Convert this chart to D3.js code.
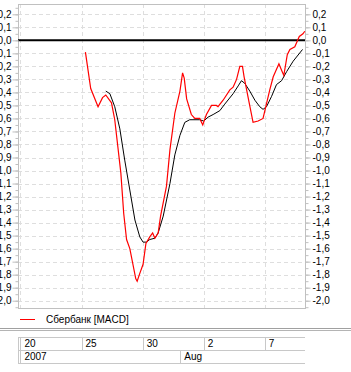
<!DOCTYPE html>
<html><head><meta charset="utf-8">
<script src="https://cdn.jsdelivr.net/npm/d3@7"></script>
<style>html,body{margin:0;padding:0;background:#fff;}svg{display:block;}</style>
</head><body>
<script>
// trading-day index (0 = 20 Jul 2007)
const macdT = [3.19,3.45,3.81,4.03,4.19,4.47,4.63,4.93,5.07,5.21,5.37,5.66,5.73,5.86,6.02,6.16,6.35,6.49,6.60,6.76,6.88,7.17,7.34,7.58,7.83,7.96,8.04,8.16,8.39,8.56,8.80,8.95,9.13,9.38,9.62,9.70,9.95,10.28,10.44,10.61,10.77,10.90,10.98,11.23,11.42,11.67,11.91,12.00,12.24,12.41,12.69,12.82,12.93,13.10,13.23,13.47,13.69,13.87,13.96];
const macdV = [-0.09,-0.37,-0.51,-0.44,-0.42,-0.48,-0.61,-1.02,-1.33,-1.53,-1.60,-1.83,-1.85,-1.79,-1.72,-1.56,-1.51,-1.48,-1.52,-1.48,-1.35,-1.12,-0.84,-0.56,-0.39,-0.25,-0.29,-0.45,-0.57,-0.60,-0.60,-0.65,-0.57,-0.50,-0.50,-0.51,-0.46,-0.38,-0.36,-0.30,-0.20,-0.20,-0.28,-0.48,-0.63,-0.62,-0.60,-0.54,-0.38,-0.28,-0.18,-0.23,-0.27,-0.11,-0.07,-0.05,0.03,0.05,0.07];
const signalT = [4.19,4.39,4.63,4.88,5.12,5.37,5.62,5.86,6.02,6.19,6.35,6.60,6.76,7.01,7.34,7.58,7.83,8.07,8.31,8.80,9.00,9.21,9.46,9.79,10.03,10.44,10.69,10.85,11.01,11.26,11.51,11.75,11.91,12.08,12.33,12.57,12.82,13.07,13.39,13.85];
const signalV = [-0.39,-0.41,-0.51,-0.68,-0.92,-1.15,-1.38,-1.51,-1.55,-1.55,-1.53,-1.52,-1.48,-1.35,-1.10,-0.88,-0.73,-0.63,-0.61,-0.61,-0.62,-0.59,-0.57,-0.54,-0.49,-0.41,-0.35,-0.31,-0.33,-0.39,-0.46,-0.51,-0.53,-0.51,-0.43,-0.34,-0.31,-0.24,-0.16,-0.07];
const dayTickT = [0,3,6,9,12];
const dayTickLabels = ["20","25","30","2","7"];
const periodT = [0,7.85];
const periodLabels = ["2007","Aug"];
const yTicks = d3.range(-20,3).map(d=>d/10);
const legendLabel = "Сбербанк [MACD]";

const W=351,H=372;
const L=18,R=305,T=4,B=308;
const x = d3.scaleLinear().domain([-0.12,13.97]).range([L,R]);
const y = d3.scaleLinear().domain([-2.0,0.2]).range([300.7,14.3]);
const fmt = v => d3.format(".1f")(v).replace(".",",").replace("−","-");
const FONT = "Liberation Sans, Arial, sans-serif";

const svg = d3.select("body").append("svg").attr("width",W).attr("height",H);
const grid = "#dedede";

// horizontal grid
svg.append("g").selectAll("line").data(yTicks.filter(v=>Math.abs(v)>1e-9)).join("line")
  .attr("x1",L).attr("x2",R).attr("y1",d=>Math.round(y(d))+0.5).attr("y2",d=>Math.round(y(d))+0.5)
  .attr("stroke",grid).attr("stroke-dasharray","4,3");
// vertical grid
svg.append("g").selectAll("line").data(dayTickT).join("line")
  .attr("x1",d=>Math.round(x(d))+0.5).attr("x2",d=>Math.round(x(d))+0.5).attr("y1",T).attr("y2",B)
  .attr("stroke",grid).attr("stroke-dasharray","4,3");

// frame
svg.append("rect").attr("x",L+0.5).attr("y",T+0.5).attr("width",R-L).attr("height",B-T)
  .attr("fill","none").attr("stroke","#c0c0c0");

// zero line
svg.append("line").attr("x1",L).attr("x2",R).attr("y1",y(0)).attr("y2",y(0))
  .attr("stroke","#000").attr("stroke-width",2);

// axes
const minor = d3.range(-41,6).map(d=>d/20).filter(v=>y(v)>T && y(v)<B);
const axL = d3.axisLeft(y).tickValues(minor).tickSize(3).tickFormat("");
const gl = svg.append("g").attr("transform",`translate(${L+0.5},0)`);
gl.call(d3.axisLeft(y).tickValues(yTicks).tickSize(6).tickFormat(fmt));
gl.append("g").call(axL);
const axR = svg.append("g").attr("transform",`translate(${R+0.5},0)`);
axR.call(d3.axisRight(y).tickValues(yTicks).tickSize(5).tickFormat(fmt));
axR.append("g").call(d3.axisRight(y).tickValues(minor).tickSize(3).tickFormat(""));
svg.selectAll(".domain").remove();
svg.selectAll(".tick line").attr("stroke","#c0c0c0");
svg.selectAll(".tick text").attr("font-family",FONT).attr("font-size",10).attr("fill","#000");
gl.selectAll(".tick text").attr("x",-7);
axR.selectAll(".tick text").attr("x",7);

// lines
const clip = svg.append("clipPath").attr("id","c").append("rect").attr("x",L).attr("y",T).attr("width",R-L+1).attr("height",B-T);
const line = d3.line().x(d=>x(d[0])).y(d=>y(d[1]));
svg.append("path").datum(signalT.map((t,i)=>[t,signalV[i]])).attr("d",line)
  .attr("fill","none").attr("stroke","#000").attr("stroke-width",1).attr("clip-path","url(#c)");
svg.append("path").datum(macdT.map((t,i)=>[t,macdV[i]])).attr("d",line)
  .attr("fill","none").attr("stroke","#ff0000").attr("stroke-width",1.2).attr("clip-path","url(#c)");

// legend
svg.append("line").attr("x1",20).attr("x2",35).attr("y1",319.5).attr("y2",319.5).attr("stroke","#ff0000").attr("stroke-width",1);
svg.append("text").attr("x",46).attr("y",323).attr("font-family",FONT).attr("font-size",10).text(legendLabel);

// separator
svg.append("line").attr("x1",0).attr("x2",W).attr("y1",328.5).attr("y2",328.5).attr("stroke","#a0a0a0");
svg.append("line").attr("x1",0).attr("x2",W).attr("y1",330.5).attr("y2",330.5).attr("stroke","#b4b4b4");

// date bar
const db = svg.append("g");
const dl = "#c8c8c8";
[337.5,350.5,363.5].forEach(yy=>db.append("line").attr("x1",L).attr("x2",R).attr("y1",yy).attr("y2",yy).attr("stroke",dl));
db.append("line").attr("x1",L+0.5).attr("x2",L+0.5).attr("y1",337.5).attr("y2",363.5).attr("stroke",dl);
db.selectAll(".dv").data(dayTickT).join("line").attr("class","dv")
  .attr("x1",d=>Math.round(x(d))+0.5).attr("x2",d=>Math.round(x(d))+0.5).attr("y1",337.5).attr("y2",350.5).attr("stroke",dl);
db.selectAll(".pv").data(periodT).join("line").attr("class","pv")
  .attr("x1",d=>Math.round(x(d))+0.5).attr("x2",d=>Math.round(x(d))+0.5).attr("y1",350.5).attr("y2",363.5).attr("stroke",dl);
db.selectAll(".dt").data(dayTickT).join("text").attr("class","dt")
  .attr("x",d=>x(d)+4).attr("y",347).attr("font-family",FONT).attr("font-size",10).text((d,i)=>dayTickLabels[i]);
db.selectAll(".pt").data(periodT).join("text").attr("class","pt")
  .attr("x",d=>x(d)+4).attr("y",360).attr("font-family",FONT).attr("font-size",10).text((d,i)=>periodLabels[i]);
</script>
</body></html>
